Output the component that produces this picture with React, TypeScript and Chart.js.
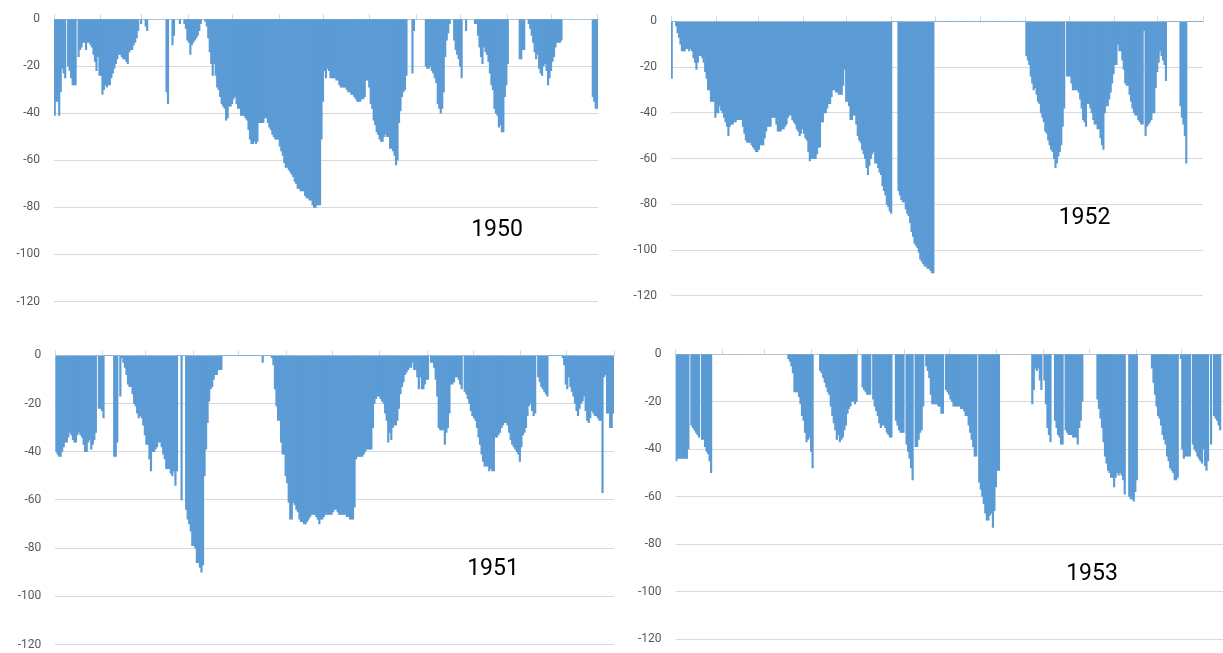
import React, { useEffect, useRef } from "react";
import { Chart, registerables } from "chart.js";

Chart.register(...registerables);

// Daily values, one bar per day of the year (0 = no bar that day).
const values1950 = [
  -41, -35, -35, -41, -31, -21, -23, -25, 0, -20,
  -22, -25, -28, -28, -28, 0, -16, -13, -12, -10,
  -10, -13, -10, -10, -11, -12, -15, -18, -22, -16,
  -24, -24, -32, -30, -28, -29, -28, -28, -25, -23,
  -21, -19, -17, -15, -15, -16, -17, -17, -18, -19,
  -14, -13, -13, -11, -10, -8, -5, 0, -2, 0,
  0, -3, -5, 0, 0, 0, 0, 0, 0, 0,
  0, 0, 0, 0, 0, -31, -36, 0, 0, -11,
  -7, 0, 0, 0, -2, 0, 0, -2, -4, -9,
  -10, -15, -11, -10, -9, -8, -7, -5, -2, 0,
  0, -1, -3, -8, -14, -19, -24, -19, -24, -29,
  -30, -33, -36, -37, -38, -43, -42, -37, -37, -36,
  -34, -33, -36, -38, -38, -41, -41, -41, -42, -43,
  -47, -51, -53, -53, -52, -53, -52, -44, -44, -44,
  -44, -42, -42, -44, -46, -47, -49, -50, -51, -51,
  -51, -54, -56, -58, -61, -63, -63, -64, -65, -66,
  -67, -69, -70, -72, -72, -73, -73, -73, -75, -76,
  -76, -77, -77, -79, -80, -80, -79, -79, -79, -51,
  -35, -22, -25, -21, -22, -25, -25, -25, -25, -26,
  -26, -28, -29, -29, -29, -29, -30, -31, -31, -32,
  -32, -33, -34, -35, -35, -35, -34, -34, -33, -26,
  -26, -29, -36, -38, -43, -45, -48, -49, -51, -52,
  -52, -50, -49, -50, -50, -55, -55, -56, -58, -62,
  -60, -44, -39, -33, -31, -30, -24, 0, 0, 0,
  -23, -5, 0, 0, 0, 0, 0, 0, 0, -20,
  -21, -21, -20, -22, -23, -25, -27, -36, -38, -40,
  -38, -31, -16, -9, -6, -2, 0, 0, -9, -13,
  -15, -17, -20, -25, 0, 0, -5, 0, 0, 0,
  0, 0, -2, -2, -7, -12, -16, -19, -12, -14,
  -15, -18, -23, -28, -30, -38, -40, -41, -46, -45,
  -48, -48, -33, -28, -19, 0, 0, 0, 0, 0,
  0, 0, -17, -17, -13, -13, 0, 0, -2, -4,
  -7, -10, -14, -17, -15, -21, -23, -24, -20, -19,
  -22, -28, -25, -22, -18, -16, -12, -10, -10, -10,
  -9, 0, 0, 0, 0, 0, 0, 0, 0, 0,
  0, 0, 0, 0, 0, 0, 0, 0, 0, 0,
  0, -33, -35, -38, -38,
];

const values1951 = [
  -40, -41, -42, -42, -40, -38, -36, -36, -34, -32,
  -33, -35, -36, -36, -33, -32, -33, -34, -37, -40,
  -40, -36, -35, -39, -37, -35, -32, 0, -22, -22,
  -23, -26, 0, 0, 0, 0, 0, 0, -42, -42,
  -36, 0, -17, -1, -3, -5, -8, -12, -13, -13,
  -16, -20, -21, -24, -26, -25, -26, -29, -33, -37,
  -37, -43, -48, -40, -40, -39, -38, -36, -36, -38,
  -41, -43, -47, -47, -47, -49, -50, -48, -54, -48,
  0, 0, -60, 0, 0, -64, -68, -70, -73, -79,
  -79, -80, -86, -86, -88, -90, -87, -50, -39, -28,
  -19, -14, -13, -10, -8, -8, -6, -6, -6, 0,
  0, 0, 0, 0, 0, 0, 0, 0, 0, 0,
  0, 0, 0, 0, 0, 0, 0, 0, 0, 0,
  0, 0, 0, 0, 0, -3, 0, 0, 0, 0,
  0, -1, -4, -14, -21, -27, -27, -36, -41, -41,
  -50, -53, -61, -68, -68, -61, -62, -64, -65, -68,
  -69, -69, -70, -70, -69, -68, -67, -66, -66, -66,
  -67, -68, -70, -68, -68, -67, -66, -66, -66, -66,
  -66, -65, -64, -64, -65, -66, -66, -66, -66, -66,
  -67, -67, -68, -68, -68, -63, -43, -42, -42, -42,
  -42, -41, -40, -39, -39, -39, -39, -30, -20, -18,
  -17, -17, -18, -19, -20, -24, -27, -36, -32, -35,
  -30, -29, -29, -27, -22, -16, -13, -11, -8, -7,
  -6, -5, -5, -3, -6, -6, -9, -14, -9, -14,
  -14, -12, -10, -10, 0, -3, -3, -5, -10, -17,
  -30, -31, -31, -31, -37, -32, -30, -24, -12, -12,
  -11, -9, -9, -10, -12, -14, 0, -15, -16, -18,
  -20, -23, -25, -26, -27, -30, -34, -37, -41, -44,
  -46, -46, -46, -48, -47, -48, -48, -34, -34, -33,
  -32, -30, -29, -28, -28, -29, -32, -35, -37, -38,
  -39, -40, -41, -44, -38, -33, -32, -30, -25, -21,
  -20, -23, -25, -24, 0, -9, -11, -13, -14, -15,
  -16, -17, 0, 0, 0, 0, 0, 0, 0, 0,
  0, -1, -4, -12, -14, -9, -13, -15, -17, -20,
  -23, -25, -22, -20, -19, -17, -23, -27, -28, -26,
  -23, -24, -25, -25, -26, -27, -27, -57, -9, -8,
  -24, -24, -30, -30, -24,
];

const values1952 = [
  -25, 0, 0, -2, -5, -7, -10, -13, -13, -13,
  -12, -12, -13, -12, -13, -16, -18, -21, -18, -15,
  -15, -16, -18, -22, -25, -30, -30, -35, -35, -35,
  -42, -40, -40, -37, -39, -40, -42, -44, -46, -50,
  -46, -45, -45, -44, -44, -43, -43, -43, -43, -46,
  -49, -52, -53, -53, -53, -54, -55, -56, -57, -57,
  -56, -54, -54, -54, -51, -48, -46, -46, -46, -42,
  -42, -42, -45, -48, -48, -48, -47, -47, -46, -45,
  -42, -41, -41, -43, -44, -45, -47, -48, -50, -49,
  -47, -49, -51, -52, -57, -61, -60, -60, -60, -60,
  -58, -55, -55, -44, -44, -40, -40, -38, -36, -36,
  -33, -30, -30, -31, -31, -32, -32, -32, -28, -21,
  -35, -35, -37, -43, -43, -41, -41, -45, -50, -52,
  -53, -56, -58, -60, -64, -67, -63, -60, -58, -57,
  -62, -62, -64, -66, -67, -72, -74, -76, -80, -81,
  -83, -84, 0, 0, 0, 0, -74, -76, -78, -79,
  -79, -82, -84, -85, -88, -92, -94, -97, -98, -99,
  -101, -104, -105, -106, -107, -107, -108, -108, -109, -110,
  -110, 0, 0, 0, 0, 0, 0, 0, 0, 0,
  0, 0, 0, 0, 0, 0, 0, 0, 0, 0,
  0, 0, 0, 0, 0, 0, 0, 0, 0, 0,
  0, 0, 0, 0, 0, 0, 0, 0, 0, 0,
  0, 0, 0, 0, 0, 0, 0, 0, 0, 0,
  0, 0, 0, 0, 0, 0, 0, 0, 0, 0,
  0, 0, 0, 0, -15, -17, -19, -24, -27, -30,
  -29, -32, -35, -36, -40, -42, -44, -48, -49, -52,
  -54, -56, -57, -60, -64, -62, -59, -57, -54, -46,
  -38, 0, -24, -24, -24, -27, -30, -30, -30, -30,
  -31, -34, -38, -43, -44, -46, -36, -36, -38, -40,
  -43, -45, -45, -47, -47, -51, -54, -56, -40, -37,
  -37, -34, -31, -27, -23, -19, -19, -10, -13, -13,
  -17, -21, -27, -28, -28, -32, -35, -38, -40, -41,
  -41, -43, -44, -45, -45, -4, -50, -46, -45, -44,
  -43, -40, -40, -29, -22, -18, -13, -15, -17, -19,
  -26, 0, 0, 0, 0, 0, 0, 0, 0, 0,
  -37, -42, -45, -50, -62, 0, 0, 0, 0, 0,
  0, 0, 0, 0, 0, 0,
];

const values1953 = [
  -45, -44, -44, -44, -44, -44, -44, -44, -40, 0,
  -30, -31, -32, -33, -34, -35, 0, -36, -36, -39,
  -41, -42, -45, -50, 0, 0, 0, 0, 0, 0,
  0, 0, 0, 0, 0, 0, 0, 0, 0, 0,
  0, 0, 0, 0, 0, 0, 0, 0, 0, 0,
  0, 0, 0, 0, 0, 0, 0, 0, 0, 0,
  0, 0, 0, 0, 0, 0, 0, 0, 0, 0,
  0, 0, 0, 0, -2, -3, -5, -8, -16, -16,
  -16, -18, -21, -26, -28, -33, -37, -36, -35, -41,
  -48, 0, 0, 0, 0, -7, -8, -10, -12, -14,
  -16, -17, -22, -26, -29, -32, -36, -34, -37, -36,
  -35, -32, -30, -25, -23, -22, -20, -20, -21, -20,
  0, 0, 0, -14, -15, -16, -17, -17, -17, 0,
  -19, -22, -24, -26, -29, -31, -30, -30, -31, -33,
  -34, -35, -35, 0, 0, -28, -30, -32, -33, -33,
  -33, 0, -38, -41, -44, -48, -53, 0, -39, -39,
  -36, -33, -32, -22, 0, -5, -7, -10, -17, -21,
  -21, -21, -21, -22, -22, -25, -25, 0, -15, -16,
  -17, -19, -20, -22, -22, -22, -22, -22, -23, -23,
  -24, -26, -26, -30, -33, -36, -39, -43, -43, 0,
  -54, -57, -60, -63, -67, -70, -70, -68, -67, -73,
  -66, -56, -49, -49, 0, 0, 0, 0, 0, 0,
  0, 0, 0, 0, 0, 0, 0, 0, 0, 0,
  0, 0, 0, 0, 0, -21, -15, -6, -7, -6,
  -11, -15, 0, -11, -21, -31, -34, -37, 0, 0,
  -28, -31, -34, -35, -38, -38, 0, -32, -33, -34,
  -34, -34, -35, -35, -35, -38, -31, -28, -20, 0,
  0, 0, 0, 0, 0, 0, 0, 0, -19, -23,
  -27, -31, -37, -43, -46, -49, -50, -52, -52, -56,
  -52, -50, -51, -50, -51, -53, -59, 0, 0, -60,
  -61, -61, -62, -58, -53, 0, 0, 0, 0, 0,
  0, 0, 0, 0, -6, -12, -17, -22, -26, -27,
  -30, -34, -36, -38, -43, -45, -48, -49, -50, -53,
  -53, -52, 0, -2, -40, -44, -43, -43, -43, -43,
  0, -38, -40, -41, -43, -44, -45, -46, -40, -47,
  -49, -45, 0, -38, 0, -26, -27, -28, -30, -32,
  0, 0, 0, 0, 0,
];

const MONTH_LENGTHS = [31, 28, 31, 30, 31, 30, 31, 31, 30, 31, 30, 31];
const Y_MIN = -120;
const Y_MAX = 0;
const Y_STEP = 20;

const BAR_COLOR = "#5b9bd5";
const GRID_COLOR = "#d9d9d9";
const TICK_LABEL_COLOR = "#595959";

// Each panel gets its own transparent canvas laid over the page; the canvases
// are oversized and shifted so axis label padding never squeezes the plot area.
const CANVAS_W = 1240;
const CANVAS_H = 720;
const CANVAS_SHIFT = 30;
const Y_AXIS_W = 44;
const X_AXIS_H = 10;

type Panel = {
  year: string;
  values: number[];
  leap: boolean;
  plot: { left: number; top: number; right: number; bottom: number };
  title: { x: number; y: number };
};

const PANELS: Panel[] = [
  { year: "1950", values: values1950, leap: false, plot: { left: 54, top: 19, right: 598, bottom: 301.5 }, title: { x: 497, y: 228 } },
  { year: "1952", values: values1952, leap: true, plot: { left: 671, top: 21.3, right: 1203, bottom: 295.8 }, title: { x: 1084.5, y: 215.5 } },
  { year: "1951", values: values1951, leap: false, plot: { left: 55.3, top: 355.3, right: 614, bottom: 644.5 }, title: { x: 493, y: 567 } },
  { year: "1953", values: values1953, leap: false, plot: { left: 675.5, top: 354, right: 1228.5, bottom: 639 }, title: { x: 1092, y: 572 } },
];

function monthStarts(leap: boolean): Set<number> {
  const starts = new Set<number>([0]);
  let day = 0;
  MONTH_LENGTHS.forEach((len, m) => {
    day += len + (leap && m === 1 ? 1 : 0);
    starts.add(day);
  });
  return starts;
}

function PanelChart({ panel }: { panel: Panel }) {
  const ref = useRef<HTMLCanvasElement | null>(null);

  useEffect(() => {
    if (!ref.current) return;
    const labels = panel.values.map((_, i) => String(i + 1));
    const starts = monthStarts(panel.leap);
    const { plot } = panel;

    const chart = new Chart(ref.current, {
      type: "bar",
      data: {
        labels,
        datasets: [
          {
            data: panel.values,
            backgroundColor: BAR_COLOR,
            borderWidth: 0,
            categoryPercentage: 1,
            barPercentage: 1,
          },
        ],
      },
      options: {
        animation: false,
        responsive: false,
        events: [],
        layout: {
          padding: {
            left: plot.left - Y_AXIS_W,
            top: plot.top + CANVAS_SHIFT - X_AXIS_H,
            right: CANVAS_W - plot.right,
            bottom: CANVAS_H - (plot.bottom + CANVAS_SHIFT),
          },
        },
        plugins: { legend: { display: false }, tooltip: { enabled: false } },
        scales: {
          x: {
            position: "top",
            offset: true,
            ticks: { display: false },
            grid: {
              offset: true,
              drawOnChartArea: false,
              tickLength: 5,
              color: (ctx: any) =>
                ctx.index === undefined || starts.has(ctx.index) ? GRID_COLOR : "rgba(0,0,0,0)",
            },
            border: { display: true, color: GRID_COLOR, width: 1 },
            afterFit: (scale: any) => {
              scale.height = X_AXIS_H;
            },
          },
          y: {
            min: Y_MIN,
            max: Y_MAX,
            ticks: {
              stepSize: Y_STEP,
              color: TICK_LABEL_COLOR,
              padding: 14,
              font: { family: "Roboto", size: 12 },
              callback: (v: any) => String(v),
            },
            grid: { color: GRID_COLOR, drawTicks: false, lineWidth: 1 },
            border: { display: false },
            afterFit: (scale: any) => {
              scale.width = Y_AXIS_W;
            },
          },
        },
      },
    });
    return () => chart.destroy();
  }, [panel]);

  return (
    <canvas
      ref={ref}
      width={CANVAS_W}
      height={CANVAS_H}
      style={{ position: "absolute", left: 0, top: -CANVAS_SHIFT, width: CANVAS_W, height: CANVAS_H }}
    />
  );
}

export default function App() {
  return (
    <div
      style={{
        position: "fixed",
        left: 0,
        top: 0,
        width: "100vw",
        height: "100vh",
        overflow: "hidden",
        background: "#ffffff",
      }}
    >
      {PANELS.map((p) => (
        <PanelChart key={p.year} panel={p} />
      ))}
      {PANELS.map((p) => (
        <div
          key={"title-" + p.year}
          style={{
            position: "absolute",
            left: p.title.x,
            top: p.title.y,
            transform: "translate(-50%, -50%)",
            fontFamily: "Roboto, 'Noto Sans', sans-serif",
            fontSize: 23,
            lineHeight: 1,
            color: "#000000",
            whiteSpace: "nowrap",
          }}
        >
          {p.year}
        </div>
      ))}
    </div>
  );
}
